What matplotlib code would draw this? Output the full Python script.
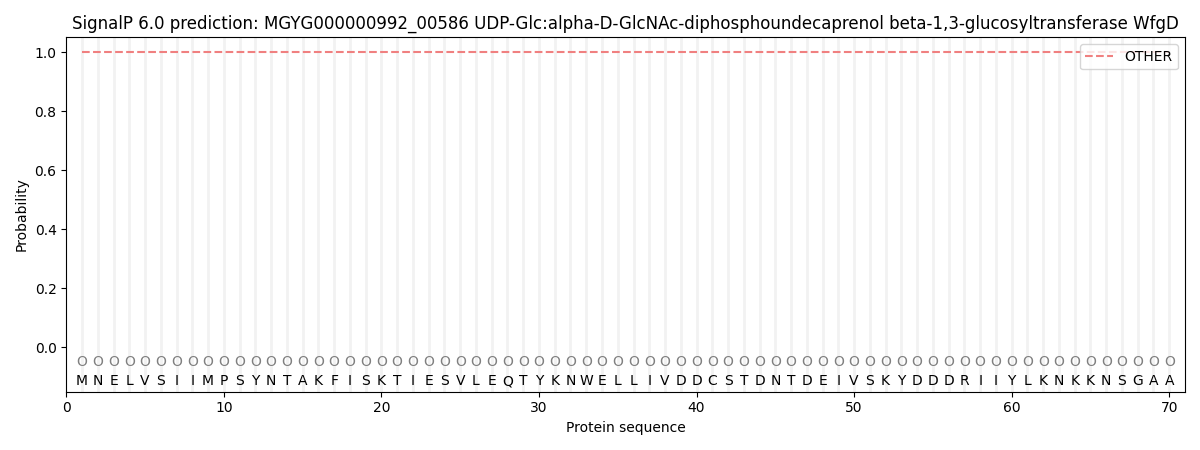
import matplotlib
matplotlib.use("Agg")
import matplotlib.pyplot as plt

sequence = list("MNELVSIIMPSYNTAKFISKTIESVLEQTYKNWELLIVDDCSTDNTDEIVSKYDDDRIIYLKNKKNSGAA")
positions = list(range(1, len(sequence) + 1))
other_prob = [1.0] * len(sequence)
labels = ["O"] * len(sequence)

fig, ax = plt.subplots(figsize=(12, 4.5), dpi=100)

for p in positions:
    ax.axvline(p, color="#f2f2f2", linewidth=2, zorder=0)

ax.plot(positions, other_prob, linestyle="--", color="#f08080", label="OTHER")

for p, lab, aa in zip(positions, labels, sequence):
    ax.text(p, -0.05, lab, ha="center", va="center", color="gray", fontsize=10)
    ax.text(p, -0.09, aa, ha="center", va="top", color="black", fontsize=10)

ax.set_xlim(0, 71)
ax.set_ylim(-0.15, 1.05)
ax.set_xlabel("Protein sequence")
ax.set_ylabel("Probability")
ax.set_title("SignalP 6.0 prediction: MGYG000000992_00586 UDP-Glc:alpha-D-GlcNAc-diphosphoundecaprenol beta-1,3-glucosyltransferase WfgD")
ax.legend(loc="upper right")
plt.tight_layout()
plt.savefig("out.png")
